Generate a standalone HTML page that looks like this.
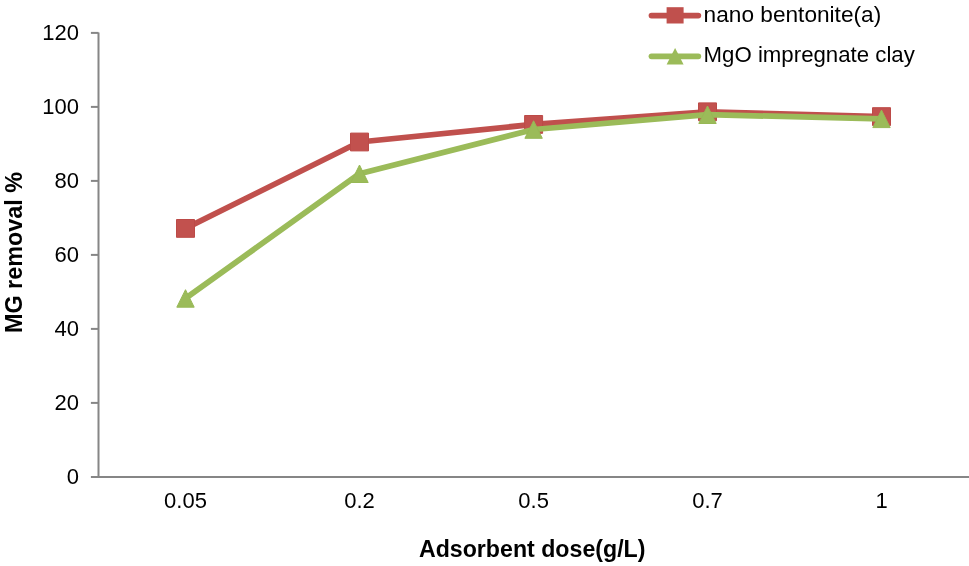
<!DOCTYPE html>
<html><head><meta charset="utf-8">
<style>
html,body{margin:0;padding:0;background:#fff;}
body{width:969px;height:566px;overflow:hidden;position:relative;}
svg{position:absolute;left:0;top:0;will-change:transform;}
text{font-family:"Liberation Sans",sans-serif;fill:#000;}
</style></head>
<body>
<svg width="969" height="566" viewBox="0 0 969 566">
<rect width="969" height="566" fill="#fff"/>
<!-- axes -->
<g stroke="#868686" stroke-width="2" fill="none">
<line x1="98.5" y1="32.4" x2="98.5" y2="477.1"/>
<line x1="90.9" y1="477.1" x2="969" y2="477.1"/>
<line x1="90.9" y1="32.9" x2="98.5" y2="32.9"/>
<line x1="90.9" y1="106.9" x2="98.5" y2="106.9"/>
<line x1="90.9" y1="180.9" x2="98.5" y2="180.9"/>
<line x1="90.9" y1="254.9" x2="98.5" y2="254.9"/>
<line x1="90.9" y1="328.9" x2="98.5" y2="328.9"/>
<line x1="90.9" y1="402.9" x2="98.5" y2="402.9"/>
</g>
<!-- y labels -->
<g font-size="22" text-anchor="end">
<text x="78.9" y="40.1">120</text>
<text x="78.9" y="114.1">100</text>
<text x="78.9" y="188.1">80</text>
<text x="78.9" y="262.1">60</text>
<text x="78.9" y="336.1">40</text>
<text x="78.9" y="410.1">20</text>
<text x="78.9" y="484.1">0</text>
</g>
<!-- x labels -->
<g font-size="22" text-anchor="middle">
<text x="185.5" y="508.1">0.05</text>
<text x="359.5" y="508.1">0.2</text>
<text x="533.6" y="508.1">0.5</text>
<text x="707.5" y="508.1">0.7</text>
<text x="881.5" y="508.1">1</text>
</g>
<!-- axis titles -->
<text x="532.2" y="557" font-size="23" font-weight="bold" text-anchor="middle" textLength="226.5" lengthAdjust="spacingAndGlyphs">Adsorbent dose(g/L)</text>
<text transform="translate(22.2,252.6) rotate(-90)" font-size="23" font-weight="bold" text-anchor="middle" textLength="161" lengthAdjust="spacingAndGlyphs">MG removal %</text>
<!-- red series -->
<polyline points="185.5,228.4 359.5,142 533.6,124.4 707.5,111.8 881.5,116.6" fill="none" stroke="#C0504D" stroke-width="5.75" stroke-linejoin="round" stroke-linecap="round"/>
<g fill="#C2514E" stroke="#BC4A47" stroke-width="1" stroke-linejoin="round">
<rect x="176.5" y="219.5" width="18" height="17.8"/>
<rect x="350.5" y="133.1" width="18" height="17.8"/>
<rect x="524.6" y="115.5" width="18" height="17.8"/>
<rect x="698.5" y="102.9" width="18" height="17.8"/>
<rect x="872.5" y="107.7" width="18" height="17.8"/>
</g>
<!-- green series -->
<polyline points="185.5,298.4 359.5,173.7 533.6,129.5 707.5,114.7 881.5,118.8" fill="none" stroke="#9BBB59" stroke-width="5.75" stroke-linejoin="round" stroke-linecap="round"/>
<g fill="#9BBB59" stroke="#97B855" stroke-width="1" stroke-linejoin="round">
<polygon points="185.5,289.7 194.2,307.2 176.8,307.2"/>
<polygon points="359.5,165.0 368.2,182.5 350.8,182.5"/>
<polygon points="533.6,120.8 542.3,138.3 524.9,138.3"/>
<polygon points="707.5,106.0 716.2,123.5 698.8,123.5"/>
<polygon points="881.5,110.1 890.2,127.6 872.8,127.6"/>
</g>
<!-- legend -->
<line x1="651.5" y1="15.5" x2="698.3" y2="15.5" stroke="#C0504D" stroke-width="5.75" stroke-linecap="round"/>
<rect x="666.6" y="7.2" width="17" height="16.3" fill="#C0504D"/>
<text x="703.6" y="22.2" font-size="22" textLength="177.6" lengthAdjust="spacingAndGlyphs">nano bentonite(a)</text>
<line x1="651.5" y1="56.3" x2="698.3" y2="56.3" stroke="#9BBB59" stroke-width="5.75" stroke-linecap="round"/>
<polygon points="675.1,48 683.6,64.6 666.6,64.6" fill="#9BBB59"/>
<text x="703.6" y="62.3" font-size="22" textLength="211.2" lengthAdjust="spacingAndGlyphs">MgO impregnate clay</text>
</svg>
</body></html>
